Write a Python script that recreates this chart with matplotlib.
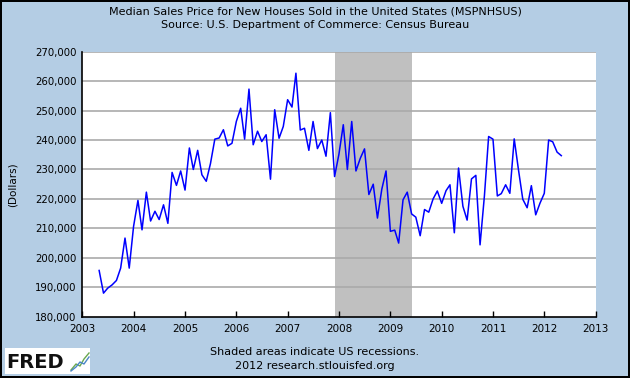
import matplotlib
matplotlib.use("Agg")
import matplotlib.pyplot as plt
import matplotlib.dates as mdates
import pandas as pd

# Median sales price, new houses sold (monthly, dollars), May 2003 - May 2012
start_month = "2003-05-01"
prices = [
    195700, 188000, 189700, 190800, 192300, 196500, 206700, 196500, 210700, 219500,
    209500, 222300, 212500, 215800, 213000, 218000, 211700, 229000, 224600, 229500,
    223000, 237300, 230000, 236500, 228200, 226000, 232000, 240300, 240700, 243500,
    238000, 238900, 246300, 250800, 240300, 257300, 238400, 243000, 239500, 241800,
    226700, 250300, 240600, 244600, 253700, 251200, 262700, 243400, 244000, 236500,
    246300, 237100, 240000, 234500, 249300, 227600, 235200, 245200, 230000, 246300,
    229500, 233800, 237000, 221500, 225000, 213500, 223300, 229500, 209000, 209400,
    205000, 219700, 222300, 214900, 213800, 207500, 216400, 215500, 220000, 222700,
    218500, 222800, 224800, 208500, 230500, 217500, 212800, 226800, 228000, 204400,
    221000, 241200, 240300, 221000, 221800, 224800, 221900, 240400, 230000, 219900,
    217000, 224500, 214600, 218500, 221900, 240000, 239400, 235900, 234700,
]
recession = ("2007-12-01", "2009-06-01")
years = list(range(2003, 2014))
yticks = list(range(180000, 280000, 10000))

dates = pd.date_range(start_month, periods=len(prices), freq="MS")

bg = "#B4CDE4"
fig = plt.figure(figsize=(6.3, 3.78), dpi=100, facecolor=bg)
fig.patch.set_edgecolor("black")
fig.patch.set_linewidth(1.5)
ax = fig.add_axes([0.1306, 0.1622, 0.815, 0.701])
ax.set_facecolor("white")

ax.axvspan(pd.Timestamp(recession[0]), pd.Timestamp(recession[1]), color="#C0C0C0", lw=0, zorder=1)
for v in yticks[1:]:
    ax.axhline(v, color="#AAAAAA", lw=1.2, zorder=2)
ax.plot(dates, prices, color="#0000FF", lw=1.1, zorder=3)

ax.set_xlim(pd.Timestamp("2003-01-01"), pd.Timestamp("2013-01-01"))
ax.set_ylim(180000, 270000)
ax.set_xticks([pd.Timestamp(f"{y}-01-01") for y in years])
ax.xaxis.set_major_formatter(mdates.DateFormatter("%Y"))
ax.set_yticks(yticks)
ax.set_yticklabels([f"{v:,}" for v in yticks])
ax.tick_params(axis="x", direction="in", length=4, width=1, labelsize=7.5, pad=5, color="black")
ax.tick_params(axis="y", length=0, labelsize=7.3, pad=4)
for s in ["top", "right"]:
    ax.spines[s].set_visible(False)
for s in ["left", "bottom"]:
    ax.spines[s].set_color("black")
    ax.spines[s].set_linewidth(1.2)
ax.set_ylabel("(Dollars)", fontsize=7.5, labelpad=13)

fig.text(0.5, 1 - 11 / 378, "Median Sales Price for New Houses Sold in the United States (MSPNHSUS)",
         ha="center", va="center", fontsize=8)
fig.text(0.5, 1 - 25 / 378, "Source: U.S. Department of Commerce: Census Bureau",
         ha="center", va="center", fontsize=8)
fig.text(0.5, 1 - 352 / 378, "Shaded areas indicate US recessions.", ha="center", va="center", fontsize=8)
fig.text(0.5, 1 - 366 / 378, "2012 research.stlouisfed.org", ha="center", va="center", fontsize=8)

# FRED logo
logo = fig.add_axes([5 / 630, 1 - 374 / 378, 85 / 630, 26 / 378])
logo.set_facecolor("white")
logo.set_xticks([])
logo.set_yticks([])
for s in logo.spines.values():
    s.set_visible(False)
logo.set_xlim(0, 85)
logo.set_ylim(0, 26)
logo.text(1, 12, "FRED", fontsize=14, fontweight="bold", va="center", ha="left", color="#111111")
logo.plot([66, 71, 75, 79, 84], [4, 10, 8, 15, 21], color="#6aa84f", lw=1)
logo.plot([66, 71, 75, 79, 84], [3, 7, 12, 10, 17], color="#4a86c8", lw=1)

fig.savefig("out.png", dpi=100, facecolor=bg, edgecolor="black")
